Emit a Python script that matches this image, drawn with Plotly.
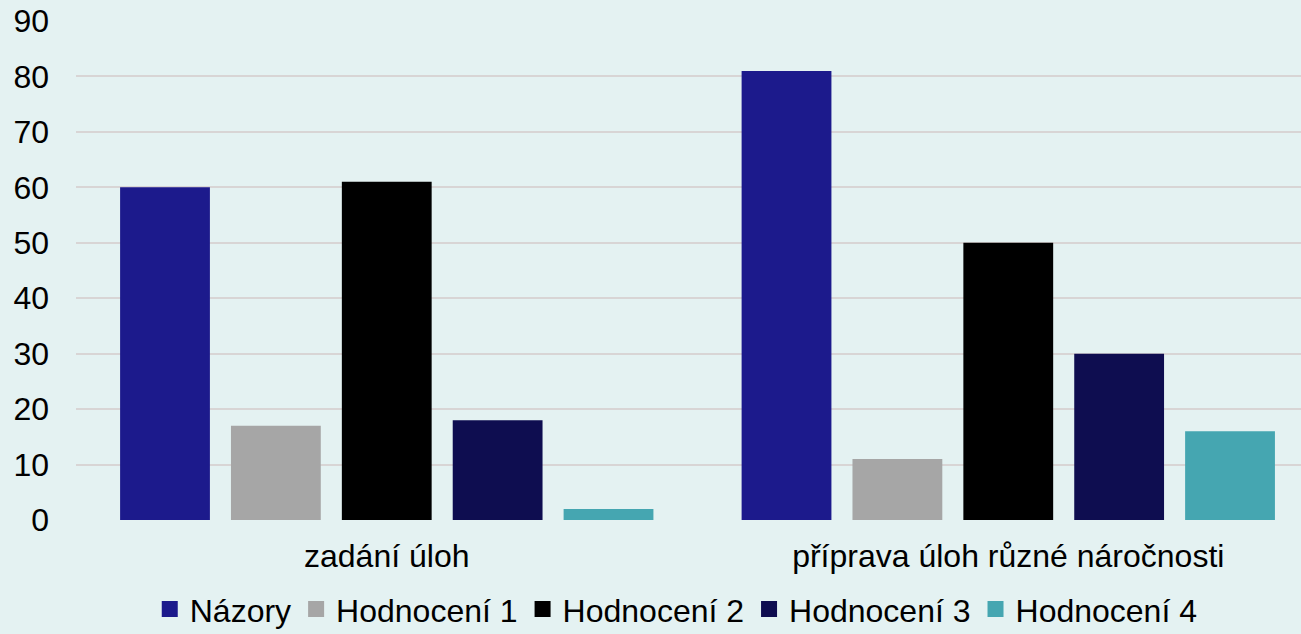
import plotly.graph_objects as go

categories = ["zadání úloh", "příprava úloh různé náročnosti"]
series_names = ["Názory", "Hodnocení 1", "Hodnocení 2", "Hodnocení 3", "Hodnocení 4"]
nazory = [60, 81]
hodnoceni1 = [17, 11]
hodnoceni2 = [61, 50]
hodnoceni3 = [18, 30]
hodnoceni4 = [2, 16]
y_ticks = [0, 10, 20, 30, 40, 50, 60, 70, 80, 90]

values = [nazory, hodnoceni1, hodnoceni2, hodnoceni3, hodnoceni4]
colors = ["#1c1a8c", "#a6a6a6", "#000000", "#0e0d50", "#45a6b1"]

FONT = "Liberation Sans, Arial, sans-serif"

fig = go.Figure()
for name, vals, col in zip(series_names, values, colors):
    fig.add_trace(go.Bar(
        name=name, x=categories, y=vals,
        marker=dict(color=col, line=dict(width=0)),
        showlegend=False, legendgroup=name,
    ))
# legend entries with larger square swatches
for name, col in zip(series_names, colors):
    fig.add_trace(go.Scatter(
        name=name, x=[None], y=[None], mode="markers",
        marker=dict(symbol="square", size=17, color=col),
        showlegend=True, legendgroup=name, hoverinfo="skip",
    ))

fig.update_layout(
    width=1301, height=634,
    barmode="group",
    bargap=0.108,
    bargroupgap=0.19,
    paper_bgcolor="#e4f2f2",
    plot_bgcolor="rgba(0,0,0,0)",
    margin=dict(l=76, r=0, t=21, b=114, autoexpand=False),
    font=dict(family=FONT, size=32, color="#000000"),
    showlegend=True,
    legend=dict(
        orientation="h",
        x=0.49, xanchor="center",
        y=-0.234, yanchor="bottom",
        font=dict(family=FONT, size=32, color="#000000"),
        bgcolor="rgba(0,0,0,0)",
        traceorder="normal",
        itemwidth=30,
    ),
    xaxis=dict(
        range=[-0.5, 1.471],
        showgrid=False,
        showline=False,
        zeroline=False,
        ticks="",
        ticklabelstandoff=14,
        tickfont=dict(family=FONT, size=32, color="#000000"),
    ),
    yaxis=dict(
        range=[0, 90],
        tickvals=y_ticks,
        showgrid=True,
        gridcolor="#d8d5d5",
        gridwidth=2,
        zeroline=False,
        showline=False,
        ticks="",
        ticklabelstandoff=26,
        tickfont=dict(family=FONT, size=32, color="#000000"),
    ),
)

fig.write_html(
    "out.html",
    config={"displayModeBar": False},
    post_script="document.body.style.margin='0';document.body.style.background='#e4f2f2';",
)
